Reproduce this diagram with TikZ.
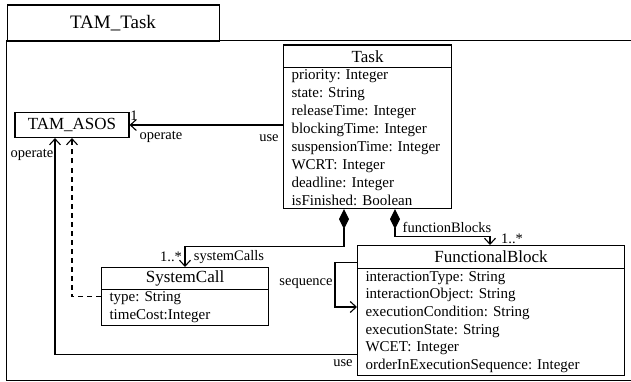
\documentclass[tikz,border=0pt]{standalone}
\usepackage{fontspec}
\setmainfont{Liberation Serif}
\frenchspacing
\usetikzlibrary{arrows.meta,calc}
\begin{document}
\begin{tikzpicture}[x=1pt,y=-1pt,
  line width=1.1pt,
  classtitle/.style={draw, anchor=north west, inner sep=0pt, font=\fontsize{17}{20}\selectfont},
  classbody/.style={draw, anchor=north west, inner xsep=8pt, inner ysep=0pt, align=left, font=\fontsize{15}{18}\selectfont},
  lbl/.style={font=\fontsize{14.5}{16}\selectfont, inner sep=0pt},
  assoc/.style={-{Straight Barb[length=6pt,width=11pt]}},
  comp/.style={{Diamond[length=20pt,width=10pt]}-{Straight Barb[length=6pt,width=11pt]}},
]
\useasboundingbox (0,0) rectangle (631,382);
\clip (0,0) rectangle (631,382);

% package frame with its name tab
\draw (6.5,40.5) rectangle (700,380.5);
\node[draw, anchor=north west, minimum width=212pt, minimum height=36pt, inner sep=0pt,
      font=\fontsize{19}{22}\selectfont] (pkgtab) at (6.5,4.5) {TAM\_Task};

% classes
\node[draw, minimum width=114pt, minimum height=25pt, inner sep=0pt,
      font=\fontsize{17}{20}\selectfont] (asos) at (72,125) {TAM\_ASOS};

\node[classtitle, minimum width=168pt, minimum height=22.5pt] (tasktitle) at (283,44.5) {Task};
\node[classbody, text width=152pt, minimum height=141pt] (taskbody) at (283,67)
  {priority: Integer\\ state: String\\ releaseTime: Integer\\ blockingTime: Integer\\
   suspensionTime: Integer\\ WCRT: Integer\\ deadline: Integer\\ isFinished: Boolean};

\node[classtitle, minimum width=167pt, minimum height=21.5pt] (sctitle) at (101,267) {SystemCall};
\node[classbody, text width=151pt, minimum height=36.5pt, font=\fontsize{15}{17.5}\selectfont] (scbody) at (101,288.5)
  {type: String\\ timeCost:Integer};

\node[classtitle, minimum width=267pt, minimum height=23pt] (fbtitle) at (357,245) {FunctionalBlock};
\node[classbody, text width=251pt, minimum height=107pt, font=\fontsize{15}{17.6}\selectfont] (fbbody) at (357,268)
  {interactionType: String\\ interactionObject: String\\ executionCondition: String\\
   executionState: String\\ WCET: Integer\\ orderInExecutionSequence: Integer};

% associations
\draw[assoc] (taskbody.west |- asos.east) -- (asos.east);
\draw[assoc] ($(fbbody.south west)+(0,-22)$) -| ([xshift=-17pt]asos.south);
\draw[assoc, dashed, dash pattern=on 5pt off 4pt] ($(scbody.north west)+(0,8)$) -| (asos.south);
\draw[comp] ([xshift=61pt]taskbody.south west) -- ++(0,37) -| ([xshift=84pt]sctitle.north west);
\draw[comp] ([xshift=112pt]taskbody.south west) -- ++(0,27) -| ([xshift=133pt]fbtitle.north west);
\draw[assoc] ($(fbtitle.north west)+(0,17.5)$) -- ++(-22,0) |- ($(fbbody.north west)+(0,39)$);

% role names and multiplicities
\node[lbl] (m1) at (134,116) {1};
\node[lbl] (r1) at (161,137) {operate};
\node[lbl] (r2) at (269,138) {use};
\node[lbl] (r3) at (32,155) {operate};
\node[lbl] (r4) at (343,363) {use};
\node[lbl] (m2) at (171,257) {1..*};
\node[lbl] (r5) at (229,257) {systemCalls};
\node[lbl] (r6) at (447,227) {functionBlocks};
\node[lbl] (m3) at (512,239) {1..*};
\node[lbl] (r7) at (306,284) {sequence};
\end{tikzpicture}
\end{document}
